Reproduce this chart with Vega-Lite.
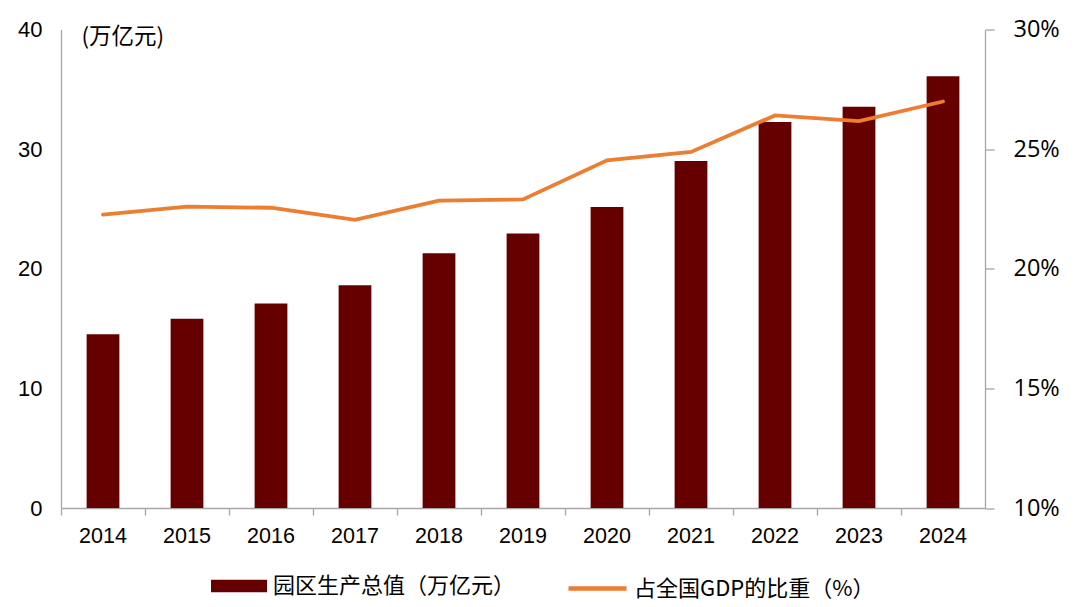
{
  "$schema": "https://vega.github.io/schema/vega-lite/v6.json",
  "width": 924,
  "height": 478.5,
  "autosize": {"type": "none"},
  "padding": {"left": 61, "top": 29.5, "right": 95, "bottom": 99},
  "background": "white",
  "config": {
    "view": {"stroke": null},
    "font": "Liberation Sans",
    "axis": {"grid": false, "domainColor": "#A6A6A6", "tickColor": "#A6A6A6", "labelColor": "#000000", "domainWidth": 1.3, "tickWidth": 1.3}
  },
  "data": {
    "values": [
      {"year": "2014", "value": 14.53, "share": 22.26},
      {"year": "2015", "value": 15.81, "share": 22.6},
      {"year": "2016", "value": 17.09, "share": 22.55},
      {"year": "2017", "value": 18.62, "share": 22.04},
      {"year": "2018", "value": 21.29, "share": 22.85},
      {"year": "2019", "value": 22.94, "share": 22.9},
      {"year": "2020", "value": 25.16, "share": 24.53},
      {"year": "2021", "value": 29.0, "share": 24.88},
      {"year": "2022", "value": 32.26, "share": 26.41},
      {"year": "2023", "value": 33.54, "share": 26.17},
      {"year": "2024", "value": 36.1, "share": 26.99}
    ]
  },
  "encoding": {
    "x": {
      "field": "year", "type": "ordinal",
      "scale": {"paddingInner": 0, "paddingOuter": 0},
      "axis": {"title": null, "bandPosition": 0, "labelAngle": 0, "labelFontSize": 21.5, "tickSize": 7, "labelPadding": 10, "labelFont": "Liberation Sans"}
    }
  },
  "layer": [
    {
      "mark": {"type": "bar", "width": {"band": 0.39}, "color": "#660000"},
      "encoding": {
        "y": {
          "field": "value", "type": "quantitative",
          "scale": {"domain": [0, 40]},
          "axis": {"values": [0, 10, 20, 30, 40], "ticks": false, "labelPadding": 19, "labelFontSize": 22, "labelFont": "Liberation Sans",
                   "title": "(万亿元)", "titleAngle": 0, "titleX": 20, "titleY": 6.5, "titleAlign": "left", "titleBaseline": "middle",
                   "titleFont": "Noto Sans CJK SC", "titleFontSize": 22.5, "titleFontWeight": "normal", "titleColor": "#000000"}
        },
        "fill": {
          "datum": "园区生产总值（万亿元）",
          "scale": {"range": ["#660000"]},
          "legend": {"orient": "none", "legendX": 150, "legendY": 528.5, "title": null, "symbolType": "M-1,-0.227H1V0.227H-1Z", "symbolSize": 3136,
                     "labelFontSize": 22, "labelFont": "Noto Sans CJK SC", "labelOffset": 6, "labelLimit": 500, "padding": 0, "symbolStrokeWidth": 0, "labelColor": "#000000"}
        }
      }
    },
    {
      "mark": {"type": "line", "strokeWidth": 3.8, "color": "#ED7D31", "strokeCap": "round"},
      "encoding": {
        "y": {
          "field": "share", "type": "quantitative",
          "scale": {"domain": [10, 30]},
          "axis": {"orient": "right", "values": [10, 15, 20, 25, 30], "labelExpr": "datum.value + '%'", "tickSize": 9, "labelPadding": 19,
                   "labelFont": "Open Sans", "labelFontSize": 23.5, "title": null}
        },
        "stroke": {
          "datum": "占全国GDP的比重（%）",
          "scale": {"range": ["#ED7D31"]},
          "legend": {"orient": "none", "legendX": 505, "legendY": 527.5, "title": null, "symbolType": "stroke", "symbolSize": 3364, "symbolStrokeWidth": 4.5,
                     "labelFontSize": 22, "labelFont": "Noto Sans CJK SC", "labelOffset": 5, "labelLimit": 500, "padding": 0, "labelColor": "#000000"}
        }
      }
    }
  ],
  "resolve": {"scale": {"y": "independent"}}
}
